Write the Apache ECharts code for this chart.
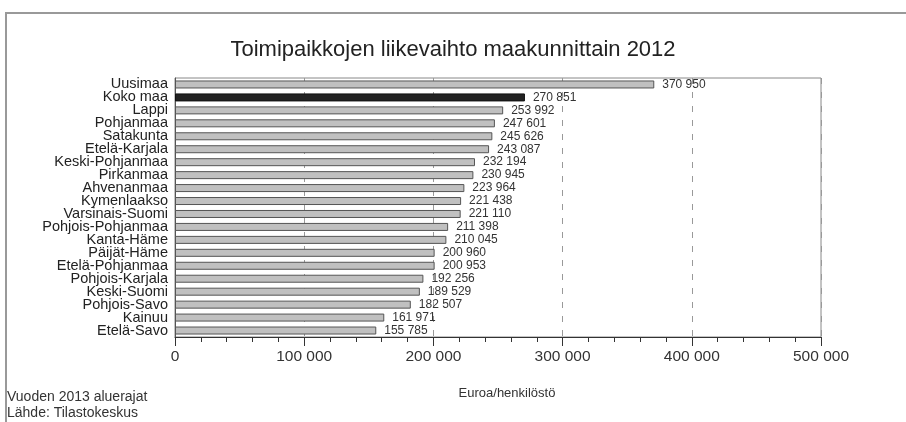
<!DOCTYPE html>
<html>
<head>
<meta charset="utf-8">
<script src="https://cdn.jsdelivr.net/npm/echarts@6/dist/echarts.min.js"></script>
<style>html,body{margin:0;padding:0;background:#fff}#c{width:906px;height:422px}</style>
</head>
<body>
<div id="c"></div>
<script>
var categories = ["Uusimaa","Koko maa","Lappi","Pohjanmaa","Satakunta","Etelä-Karjala","Keski-Pohjanmaa","Pirkanmaa","Ahvenanmaa","Kymenlaakso","Varsinais-Suomi","Pohjois-Pohjanmaa","Kanta-Häme","Päijät-Häme","Etelä-Pohjanmaa","Pohjois-Karjala","Keski-Suomi","Pohjois-Savo","Kainuu","Etelä-Savo"];
var values = [370950,270851,253992,247601,245626,243087,232194,230945,223964,221438,221110,211398,210045,200960,200953,192256,189529,182507,161971,155785];
var highlight = "Koko maa";
var xTicks = [0,100000,200000,300000,400000,500000];

function fmt(v){ return String(Math.round(v)).replace(/\B(?=(\d{3})+(?!\d))/g, " "); }

var chart = echarts.init(document.getElementById('c'));
var FONT = "Liberation Sans, Arial, sans-serif";
chart.setOption({
  animation: false,
  backgroundColor: '#fff',
  textStyle: { fontFamily: FONT },
  title: {
    text: 'Toimipaikkojen liikevaihto maakunnittain 2012',
    left: 'center', top: 34,
    textStyle: { fontSize: 22, fontWeight: 'normal', color: '#222', fontFamily: FONT }
  },
  grid: { left: 175, right: 85, top: 78, bottom: 85, show: true, borderColor: '#888', borderWidth: 1, backgroundColor: 'transparent' },
  xAxis: {
    type: 'value', min: xTicks[0], max: xTicks[xTicks.length-1], interval: xTicks[1]-xTicks[0],
    name: 'Euroa/henkilöstö', nameLocation: 'middle', nameGap: 50,
    nameTextStyle: { fontSize: 13, color: '#333', fontFamily: FONT, padding: [0, 0, 0, 18] },
    axisLine: { show: true, lineStyle: { color: '#333', width: 1 } },
    axisTick: { show: true, inside: false, length: 9, lineStyle: { color: '#333' } },
    minorTick: { show: true, splitNumber: 5, length: 5, lineStyle: { color: '#333' } },
    axisLabel: { fontSize: 15.5, color: '#333', margin: 12, formatter: function(v){ return fmt(v); }, fontFamily: FONT },
    splitLine: { show: true, lineStyle: { color: '#999', type: [6, 8], width: 1 } }
  },
  yAxis: {
    type: 'category', data: categories, inverse: true,
    axisLine: { show: true, lineStyle: { color: '#555' } },
    axisTick: { show: false },
    axisLabel: { interval: 0, fontSize: 14.5, lineHeight: 13, color: '#222', margin: 7, fontFamily: FONT }
  },
  series: [{
    type: 'bar', barWidth: 8,
    data: values.map(function(v, i){
      var hl = categories[i] === highlight;
      return { value: v, itemStyle: { color: hl ? '#222' : '#c0c0c0', borderColor: hl ? '#111' : '#555', borderWidth: 1 } };
    }),
    label: { show: true, position: 'right', distance: 8, fontSize: 12, color: '#333', fontFamily: FONT,
      formatter: function(p){ return fmt(p.value); } }
  }],
  graphic: [
    { type: 'rect', shape: { x: 6, y: 13, width: 930, height: 440 }, style: { fill: 'none', stroke: '#999', lineWidth: 2 }, silent: true },
    { type: 'text', left: 7, top: 390, style: { text: 'Vuoden 2013 aluerajat', fontSize: 14, fill: '#333', fontFamily: FONT } },
    { type: 'text', left: 7, top: 406, style: { text: 'Lähde: Tilastokeskus', fontSize: 14, fill: '#333', fontFamily: FONT } }
  ]
});
</script>
</body>
</html>
